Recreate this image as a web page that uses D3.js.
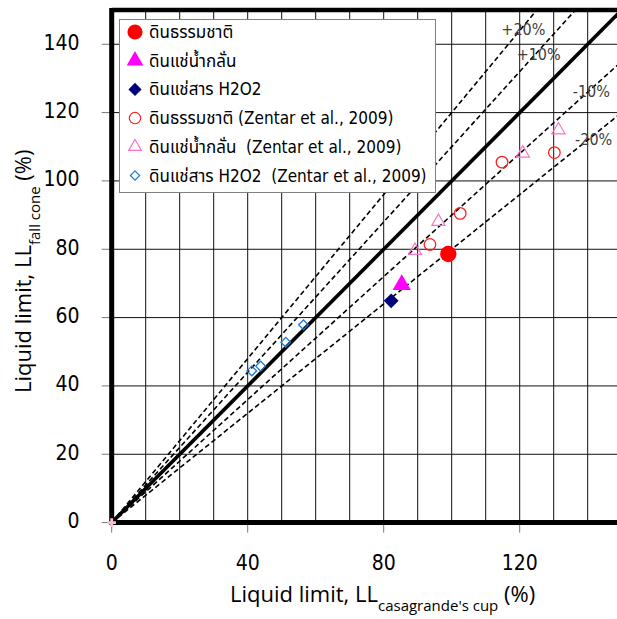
<!DOCTYPE html>
<html>
<head>
<meta charset="utf-8">
<script src="https://cdn.jsdelivr.net/npm/d3@7"></script>
<style>
  html, body { margin: 0; padding: 0; background: #fff; }
  svg { display: block; }
</style>
</head>
<body>
<svg id="chart" width="617" height="619"></svg>
<script>
// ---------------- data ----------------
const xTickValues = [0, 40, 80, 120];
const yTickValues = [0, 20, 40, 60, 80, 100, 120, 140];

const legendLabels = [
  "ดินธรรมชาติ",
  "ดินแช่น้ำกลั่น",
  "ดินแช่สาร H2O2",
  "ดินธรรมชาติ (Zentar et al., 2009)",
  "ดินแช่น้ำกลั่น  (Zentar et al., 2009)",
  "ดินแช่สาร H2O2  (Zentar et al., 2009)"
];

// this study
const naturalX = [99.0];
const naturalY = [78.6];
const distilledX = [85.3];
const distilledY = [69.6];
const peroxideX = [82.2];
const peroxideY = [64.9];

// Zentar et al., 2009
const zNaturalX = [93.6, 102.5, 114.8, 130.2];
const zNaturalY = [81.4, 90.5, 105.5, 108.3];
const zDistilledX = [89.2, 96.1, 120.9, 131.4];
const zDistilledY = [79.6, 88.1, 108.1, 114.9];
const zPeroxideX = [41.2, 43.8, 51.2, 56.4];
const zPeroxideY = [44.4, 45.8, 52.8, 57.9];

const ratioLines = [1.2, 1.1, 0.9, 0.8];
const ratioLabels = ["+20%", "+10%", "-10%", "-20%"];

// ---------------- layout ----------------
const svg = d3.select("#chart");
const x = d3.scaleLinear().domain([0, 150]).range([111.7, 621.7]);
const y = d3.scaleLinear().domain([0, 150]).range([522.6, 10.1]);

const numFont = "'DejaVu Sans Condensed', 'DejaVu Sans', sans-serif";
const thaiFont = "'DejaVu Sans Condensed', 'Noto Sans Thai', 'Noto Sans Thai UI', 'Noto Sans', sans-serif";
const titleFont = "'Open Sans', 'Noto Sans', sans-serif";

// grid
const g = svg.append("g");
g.selectAll("line.vg").data(d3.range(10, 150, 10)).join("line")
  .attr("x1", d => x(d)).attr("x2", d => x(d))
  .attr("y1", y(0)).attr("y2", y(150))
  .attr("stroke", "#111").attr("stroke-width", 1);
g.selectAll("line.hg").data(d3.range(20, 150, 20)).join("line")
  .attr("x1", x(0)).attr("x2", x(150))
  .attr("y1", d => y(d)).attr("y2", d => y(d))
  .attr("stroke", "#111").attr("stroke-width", 1);

// ticks outside
g.selectAll("line.yt").data(yTickValues).join("line")
  .attr("x1", x(0) - 10).attr("x2", x(0))
  .attr("y1", d => y(d)).attr("y2", d => y(d))
  .attr("stroke", "#777").attr("stroke-width", 1);
g.selectAll("line.xt").data(xTickValues).join("line")
  .attr("x1", d => x(d)).attr("x2", d => x(d))
  .attr("y1", y(0)).attr("y2", y(0) + 10)
  .attr("stroke", "#777").attr("stroke-width", 1);

// tick labels
g.selectAll("text.yl").data(yTickValues).join("text")
  .attr("x", 79.5).attr("y", d => y(d) - 1.5)
  .attr("text-anchor", "end").attr("dominant-baseline", "central")
  .attr("font-family", numFont).attr("font-size", 21).attr("fill", "#000")
  .text(d => d);
g.selectAll("text.xl").data(xTickValues).join("text")
  .attr("x", d => x(d)).attr("y", 570)
  .attr("text-anchor", "middle")
  .attr("font-family", numFont).attr("font-size", 21).attr("fill", "#000")
  .text(d => d);

// ratio lines
const lineGen = d3.line().x(d => x(d[0])).y(d => y(d[1]));
ratioLines.forEach(r => {
  const xe = Math.min(150, 150 / r);
  svg.append("path")
    .attr("d", lineGen([[0, 0], [xe, xe * r]]))
    .attr("stroke", "#000").attr("stroke-width", 1.6)
    .attr("stroke-dasharray", "5,3").attr("fill", "none");
});
svg.append("path")
  .attr("d", lineGen([[0, 0], [150, 150]]))
  .attr("stroke", "#000").attr("stroke-width", 3.6).attr("fill", "none");

// ratio labels (data-space anchors)
const labelAnchors = [[114.6, 142.7], [119.1, 135.4], [135.6, 124.5], [136.3, 110.5]];
ratioLabels.forEach((t, i) => {
  svg.append("text")
    .attr("x", x(labelAnchors[i][0])).attr("y", y(labelAnchors[i][1]))
    .attr("font-family", numFont).attr("font-size", 16).attr("fill", "#404040")
    .text(t);
});

// axes frame (thick)
svg.append("line").attr("x1", x(0)).attr("x2", x(150)).attr("y1", y(150)).attr("y2", y(150))
  .attr("stroke", "#000").attr("stroke-width", 4.5);
svg.append("line").attr("x1", x(0)).attr("x2", x(0)).attr("y1", y(150) - 2.2).attr("y2", y(0) + 2.2)
  .attr("stroke", "#000").attr("stroke-width", 5);
svg.append("line").attr("x1", x(0)).attr("x2", x(150)).attr("y1", y(0)).attr("y2", y(0))
  .attr("stroke", "#000").attr("stroke-width", 5);

// origin marker (faint asterisk)
const o = svg.append("g").attr("transform", `translate(${x(0)},${y(0)})`);
o.append("path").attr("d", d3.symbol().type(d3.symbolCross).size(40)()).attr("fill", "#f7c0d8");
o.append("path").attr("d", d3.symbol().type(d3.symbolTimes).size(50)()).attr("fill", "#f8cf8e");

// marker helpers
function pts(xs, ys) { return xs.map((v, i) => [v, ys[i]]); }
function drawSeries(data, type, size, fill, stroke, sw) {
  svg.append("g").selectAll("path").data(data).join("path")
    .attr("transform", d => `translate(${x(d[0])},${y(d[1])})`)
    .attr("d", d3.symbol().type(type).size(size)())
    .attr("fill", fill).attr("stroke", stroke).attr("stroke-width", sw);
}
drawSeries(pts(zPeroxideX, zPeroxideY), d3.symbolDiamond2, 60, "none", "#1a7ad4", 1.3);
drawSeries(pts(zDistilledX, zDistilledY), d3.symbolTriangle, 75, "none", "#ff70c8", 1.2);
drawSeries(pts(zNaturalX, zNaturalY), d3.symbolCircle, 105, "none", "#ff2020", 1.3);
drawSeries(pts(peroxideX, peroxideY), d3.symbolDiamond2, 140, "#00007a", "none", 0);
drawSeries(pts(distilledX, distilledY), d3.symbolTriangle, 145, "#ff00ff", "none", 0);
drawSeries(pts(naturalX, naturalY), d3.symbolCircle, 210, "#ff0000", "none", 0);

// legend
const lg = svg.append("g");
lg.append("rect").attr("x", 119.5).attr("y", 19.5).attr("width", 316).attr("height", 173)
  .attr("fill", "#fff").attr("stroke", "#808080").attr("stroke-width", 1);
const legendMarks = [
  [d3.symbolCircle, 180, "#ff0000", "none", 0],
  [d3.symbolTriangle, 120, "#ff00ff", "none", 0],
  [d3.symbolDiamond2, 110, "#00007a", "none", 0],
  [d3.symbolCircle, 100, "none", "#ff2020", 1.2],
  [d3.symbolTriangle, 70, "none", "#ff70c8", 1.2],
  [d3.symbolDiamond2, 55, "none", "#1a7ad4", 1.2]
];
legendLabels.forEach((t, i) => {
  const cy = 32 + i * 28.7;
  const m = legendMarks[i];
  lg.append("path").attr("transform", `translate(135,${cy})`)
    .attr("d", d3.symbol().type(m[0]).size(m[1])())
    .attr("fill", m[2]).attr("stroke", m[3]).attr("stroke-width", m[4]);
  lg.append("text").attr("x", 149).attr("y", cy).attr("dominant-baseline", "central")
    .style("white-space", "pre")
    .attr("font-family", thaiFont).attr("font-size", 17).attr("fill", "#000")
    .text(t);
});

// axis titles
const xt = svg.append("text").attr("x", 230).attr("y", 602)
  .attr("font-family", titleFont).attr("font-size", 22).attr("fill", "#000");
xt.append("tspan").text("Liquid limit, LL");
xt.append("tspan").attr("font-size", 15).attr("dy", 9).text("casagrande's cup");
xt.append("tspan").attr("dy", -9).text(" (%)");

const yt = svg.append("text").attr("transform", "translate(31,393) rotate(-90)")
  .attr("font-family", titleFont).attr("font-size", 22).attr("fill", "#000");
yt.append("tspan").text("Liquid limit, LL");
yt.append("tspan").attr("font-size", 15).attr("dy", 9).text("fall cone");
yt.append("tspan").attr("dy", -9).text(" (%)");
</script>
</body>
</html>
